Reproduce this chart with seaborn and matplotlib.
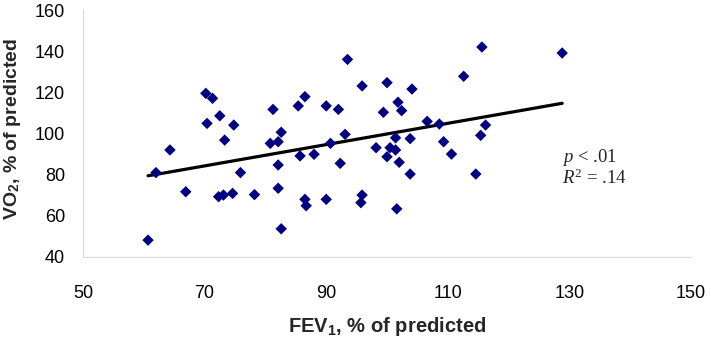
import matplotlib
matplotlib.use("Agg")
import matplotlib.pyplot as plt
import seaborn as sns
import pandas as pd

fev1 = [60.7, 62.0, 64.3, 66.9, 70.2, 71.3, 70.4, 72.5, 73.3, 74.8,
        72.3, 73.1, 74.6, 75.9, 78.2, 81.25, 80.8, 82.1, 82.6, 82.1,
        82.1, 82.6, 85.4, 86.5, 85.7, 88.0, 86.5, 86.7, 90.0, 92.0,
        90.7, 93.1, 92.3, 90.0, 93.5,
        115.6, 128.8, 112.6, 95.9, 100.0, 104.1, 99.4, 101.8, 102.4, 98.2,
        100.5, 101.4, 101.4, 100.0, 102.0, 103.8, 103.8, 106.6, 108.6, 109.3,
        110.6, 116.2, 115.4, 114.6, 95.9, 95.7, 101.6]
vo2 = [48.2, 81.0, 92.0, 71.7, 119.5, 117.1, 104.9, 108.6, 96.8, 104.1,
       69.3, 70.1, 70.9, 81.0, 70.3, 111.7, 95.2, 96.0, 100.6, 84.7,
       73.4, 53.7, 113.4, 117.9, 89.1, 89.9, 68.0, 64.9, 113.4, 111.7,
       95.2, 99.6, 85.5, 68.0, 136.0,
       142.0, 139.1, 127.8, 123.1, 124.7, 121.6, 110.3, 115.2, 111.1, 93.1,
       93.1, 97.9, 92.0, 88.7, 86.0, 97.5, 80.3, 105.9, 104.6, 96.0,
       90.0, 104.1, 99.1, 80.3, 70.1, 66.4, 63.4]

x_ticks = [50, 70, 90, 110, 130, 150]
y_ticks = [40, 60, 80, 100, 120, 140, 160]

df = pd.DataFrame({"fev1": fev1, "vo2": vo2})

sns.set_theme(style="white")
plt.rcParams["font.family"] = ["Liberation Sans", "DejaVu Sans"]
plt.rcParams["mathtext.fontset"] = "custom"
plt.rcParams["mathtext.bf"] = "Liberation Sans:bold"
plt.rcParams["mathtext.it"] = "Liberation Serif:italic"
plt.rcParams["mathtext.rm"] = "Liberation Serif"

fig = plt.figure(figsize=(7.11, 3.39), dpi=100)
ax = fig.add_axes([0.1167, 0.2419, 0.972 - 0.1167, 0.9705 - 0.2419])

sns.regplot(data=df, x="fev1", y="vo2", ax=ax, ci=None, truncate=True,
            marker="D",
            scatter_kws=dict(s=34, color="#000080", edgecolor="none", alpha=1, zorder=3),
            line_kws=dict(color="black", lw=2.3, zorder=2))

ax.set_xlim(50, 150)
ax.set_ylim(40, 160)
ax.set_xticks(x_ticks)
ax.set_yticks(y_ticks)
ax.tick_params(axis="both", labelsize=13, colors="#d0d0d0", labelcolor="black",
               length=5, width=0.8, direction="out")
ax.tick_params(axis="x", pad=15)
ax.tick_params(axis="y", pad=8)
for side in ["top", "right"]:
    ax.spines[side].set_visible(False)
for side in ["left", "bottom"]:
    ax.spines[side].set_color("#d9d9d9")
    ax.spines[side].set_linewidth(0.8)

ax.set_xlabel(r"FEV$_\mathbf{1}$, % of predicted", fontsize=14.5, fontweight="bold")
ax.set_ylabel(r"VO$_\mathbf{2}$, % of predicted", fontsize=14, fontweight="bold")
ax.xaxis.set_label_coords(0.5, -0.235)
ax.yaxis.set_label_coords(-0.098, 0.518)

ax.text(0.788, 0.385, r"$p$ < .01", transform=ax.transAxes, fontsize=13.5,
        family="Liberation Serif", va="baseline", ha="left")
ax.text(0.788, 0.296, r"$R^2$ = .14", transform=ax.transAxes, fontsize=13.5,
        family="Liberation Serif", va="baseline", ha="left")

fig.savefig("out.png", dpi=100)
